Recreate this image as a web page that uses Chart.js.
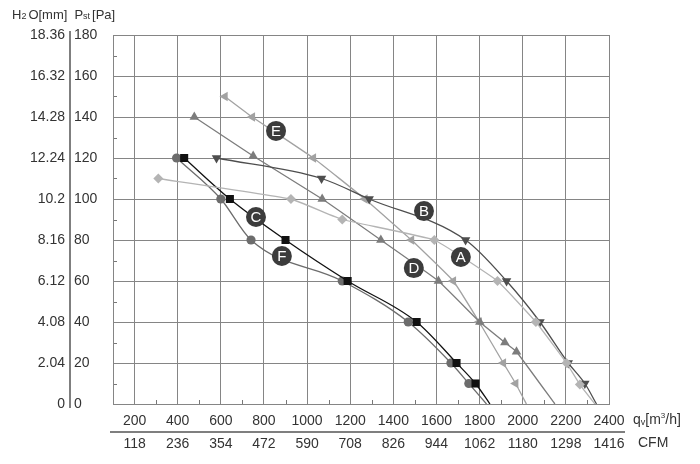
<!DOCTYPE html>
<html>
<head>
<meta charset="utf-8">
<script src="https://cdn.jsdelivr.net/npm/chart.js@4"></script>
<style>
  html, body { margin: 0; padding: 0; background: #fff; }
  #wrap { width: 700px; height: 464px; }
</style>
</head>
<body>
<div id="wrap"><canvas id="fanChart"></canvas></div>
<script>
// tick labels
const flowTicks = [200, 400, 600, 800, 1000, 1200, 1400, 1600, 1800, 2000, 2200, 2400];
const cfmTicks = [118, 236, 354, 472, 590, 708, 826, 944, 1062, 1180, 1298, 1416];
const paTicks = [0, 20, 40, 60, 80, 100, 120, 140, 160, 180];
const mmTicks = ["0", "2.04", "4.08", "6.12", "8.16", "10.2", "12.24", "14.28", "16.32", "18.36"];

// curves: flow [m3/h] and static pressure [Pa]
const aFlow = [310, 925, 1163, 1590, 1883, 2061, 2203, 2265, 2335];
const aPress = [110, 100, 90, 80, 60, 40, 20, 9.5, 0];
const bFlow = [580, 1067, 1288, 1735, 1925, 2080, 2211, 2288, 2342];
const bPress = [120, 110, 100, 80, 60, 40, 20, 10, 0];
const cFlow = [430, 642, 900, 1188, 1508, 1693, 1781, 1848];
const cPress = [120, 100, 80, 60, 40, 20, 10, 0];
const dFlow = [477, 750, 1070, 1342, 1609, 1801, 1917, 1971, 2149];
const dPress = [140, 121, 100, 80, 60, 40, 30, 25.5, 0];
const eFlow = [619, 746, 1029, 1268, 1484, 1678, 1798, 1910, 1967, 2017];
const ePress = [150, 140, 120, 100, 80, 60, 40, 20, 10, 0];
const fFlow = [395, 600, 740, 1163, 1469, 1667, 1750, 1832];
const fPress = [120, 100, 80, 60, 40, 20, 10, 0];

// curve name badges
const badgeNames = ["A", "B", "C", "D", "E", "F"];
const badgeFlow = [1713, 1542, 763, 1495, 856, 883];
const badgePress = [71.7, 94.1, 91.2, 66.3, 133.2, 72.2];

const FONT = '"Liberation Sans", Arial, sans-serif';
const GRID = "#858585";

function pts(xs, ys) {
	return xs.map((x, i) => ({ x: x, y: ys[i] }));
}

function curve(label, xs, ys, color, style, radius, rotation, smooth) {
	return {
		label: label,
		data: pts(xs, ys),
		showLine: true,
		borderColor: color,
		backgroundColor: color,
		borderWidth: 1.3,
		pointStyle: style,
		pointRotation: rotation,
		pointRadius: (c) => (c.raw && c.raw.y === 0 ? 0 : radius),
		pointHoverRadius: radius,
		pointBorderWidth: 0,
		tension: smooth ? 0.4 : 0.1,
		cubicInterpolationMode: smooth ? "monotone" : "default",
	};
}

// draw text with subscript parts
function drawParts(ctx, parts, x, y) {
	ctx.textBaseline = "middle";
	ctx.textAlign = "left";
	for (const p of parts) {
		ctx.font = p.s + "px " + FONT;
		ctx.fillText(p.t, x, y + (p.dy || 0));
		x += ctx.measureText(p.t).width + (p.gap || 0);
	}
}

const decor = {
	id: "decor",
	beforeDatasetsDraw(chart) {
		const ctx = chart.ctx;
		const a = chart.chartArea;
		const xs = chart.scales.x;
		const ys = chart.scales.y;
		ctx.save();
		ctx.strokeStyle = "#777";
		ctx.lineWidth = 1;
		// minor ticks
		for (let v = 300; v < 2400; v += 200) {
			const px = Math.round(xs.getPixelForValue(v)) + 0.5;
			ctx.beginPath();
			ctx.moveTo(px, a.bottom);
			ctx.lineTo(px, a.bottom - 4);
			ctx.stroke();
		}
		for (let v = 10; v < 180; v += 20) {
			const py = Math.round(ys.getPixelForValue(v)) + 0.5;
			ctx.beginPath();
			ctx.moveTo(a.left, py);
			ctx.lineTo(a.left + 4, py);
			ctx.stroke();
		}
		// frame
		ctx.strokeStyle = GRID;
		ctx.strokeRect(Math.round(a.left) + 0.5, Math.round(a.top) + 0.5,
			Math.round(a.right - a.left), Math.round(a.bottom - a.top));
		ctx.restore();
	},
	afterDatasetsDraw(chart) {
		const ctx = chart.ctx;
		const a = chart.chartArea;
		const xs = chart.scales.x;
		const ys = chart.scales.y;
		ctx.save();
		// curve badges
		for (let i = 0; i < badgeNames.length; i++) {
			const px = xs.getPixelForValue(badgeFlow[i]);
			const py = ys.getPixelForValue(badgePress[i]);
			ctx.fillStyle = "#3c3c3c";
			ctx.beginPath();
			ctx.arc(px, py, 10, 0, Math.PI * 2);
			ctx.fill();
			ctx.fillStyle = "#fff";
			ctx.font = "15px " + FONT;
			ctx.textAlign = "center";
			ctx.textBaseline = "middle";
			ctx.fillText(badgeNames[i], px, py + 1);
		}
		// separator between pressure columns
		ctx.strokeStyle = "#555";
		ctx.lineWidth = 1.5;
		ctx.beginPath();
		ctx.moveTo(ys.left - 4, a.top - 4);
		ctx.lineTo(ys.left - 4, a.bottom + 4);
		ctx.stroke();
		// separator between flow rows
		ctx.beginPath();
		ctx.moveTo(a.left - 3, 432);
		ctx.lineTo(a.right + 16, 432);
		ctx.stroke();
		// headings
		ctx.fillStyle = "#333";
		drawParts(ctx, [
			{ t: "H", s: 13 }, { t: "2", s: 9, dy: 2, gap: 2 }, { t: "O[mm]", s: 13, gap: 7 },
			{ t: "P", s: 13 }, { t: "st", s: 9, dy: 2, gap: 2 }, { t: "[Pa]", s: 13 },
		], 12, 15);
		drawParts(ctx, [
			{ t: "q", s: 14 }, { t: "v", s: 9, dy: 3 }, { t: "[m", s: 14 }, { t: "3", s: 8, dy: -4 }, { t: "/h]", s: 14 },
		], a.right + 24, 420);
		drawParts(ctx, [{ t: "CFM", s: 14 }], a.right + 29, 443);
		ctx.restore();
	},
};

const ctx = document.getElementById("fanChart").getContext("2d");
const fanChart = new Chart(ctx, {
	type: "scatter",
	data: {
		datasets: [
			curve("A", aFlow, aPress, "#b4b4b4", "rectRot", 5, 0, false),
			curve("B", bFlow, bPress, "#4e4e4e", "triangle", 5.5, 180, true),
			curve("C", cFlow, cPress, "#111111", "rect", 5.7, 0, true),
			curve("D", dFlow, dPress, "#7c7c7c", "triangle", 5.5, 0, false),
			curve("E", eFlow, ePress, "#a2a2a2", "triangle", 5.5, -90, false),
			curve("F", fFlow, fPress, "#6c6c6c", "circle", 4.6, 0, true),
		],
	},
	plugins: [decor],
	options: {
		responsive: true,
		maintainAspectRatio: false,
		animation: false,
		layout: { padding: { top: 35, right: 91, bottom: 8, left: 4 } },
		plugins: { legend: { display: false }, tooltip: { enabled: false } },
		scales: {
			x: {
				type: "linear",
				position: "bottom",
				min: 100,
				max: 2400,
				weight: 0,
				afterBuildTicks: (s) => { s.ticks = flowTicks.map((v) => ({ value: v })); },
				afterFit: (s) => { s.height = 28; },
				ticks: {
					autoSkip: false,
					maxRotation: 0,
					padding: 9,
					color: "#333",
					font: { family: FONT, size: 14 },
					callback: (v) => String(v),
				},
				grid: {
					drawTicks: false,
					color: (c) => (c.tick && c.tick.value < 2400 ? GRID : "transparent"),
					lineWidth: 1,
				},
				border: { display: true, color: GRID },
			},
			x2: {
				type: "linear",
				position: "bottom",
				min: 100,
				max: 2400,
				weight: 1,
				afterBuildTicks: (s) => { s.ticks = flowTicks.map((v) => ({ value: v })); },
				afterFit: (s) => { s.height = 24; },
				ticks: {
					autoSkip: false,
					maxRotation: 0,
					padding: 4,
					color: "#333",
					font: { family: FONT, size: 14 },
					callback: (v) => String(cfmTicks[flowTicks.indexOf(v)]),
				},
				grid: { display: false, drawTicks: false },
				border: { display: false },
			},
			y: {
				type: "linear",
				position: "left",
				min: 0,
				max: 180,
				weight: 0,
				afterBuildTicks: (s) => { s.ticks = paTicks.map((v) => ({ value: v })); },
				afterFit: (s) => { s.width = 39; },
				ticks: {
					crossAlign: "far",
					padding: 4,
					color: "#333",
					font: { family: FONT, size: 14 },
					callback: (v) => String(v),
				},
				grid: {
					drawTicks: false,
					color: (c) => (c.tick && c.tick.value > 0 && c.tick.value < 180 ? GRID : "transparent"),
					lineWidth: 1,
				},
				border: { display: true, color: GRID },
			},
			y2: {
				type: "linear",
				position: "left",
				min: 0,
				max: 180,
				weight: 1,
				afterBuildTicks: (s) => { s.ticks = paTicks.map((v) => ({ value: v })); },
				afterFit: (s) => { s.width = 70; },
				ticks: {
					crossAlign: "near",
					padding: 9,
					color: "#333",
					font: { family: FONT, size: 14 },
					callback: (v) => mmTicks[paTicks.indexOf(v)],
				},
				grid: { display: false, drawTicks: false },
				border: { display: false },
			},
		},
	},
});
</script>
</body>
</html>
